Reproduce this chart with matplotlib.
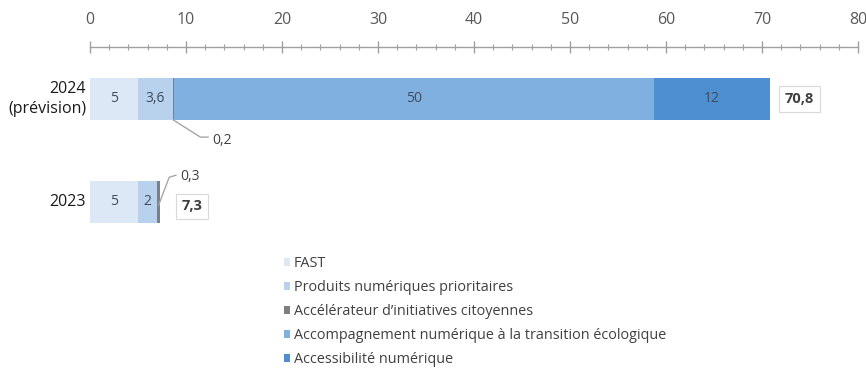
import matplotlib
matplotlib.use("Agg")
import matplotlib.pyplot as plt
from matplotlib.patches import Patch
import numpy as np

plt.rcParams['font.family'] = ['Open Sans', 'DejaVu Sans']

categories = ["2024\n(prévision)", "2023"]
series_names = ["FAST", "Produits numériques prioritaires",
                "Accélérateur d’initiatives citoyennes",
                "Accompagnement numérique à la transition écologique",
                "Accessibilité numérique"]
fast = [5, 5]
produits = [3.6, 2]
accelerateur = [0.2, 0.3]
accompagnement = [50, 0]
accessibilite = [12, 0]
totals = [70.8, 7.3]
seg_labels = [["5", "5"], ["3,6", "2"], ["", ""], ["50", ""], ["12", ""]]
total_labels = ["70,8", "7,3"]
small_labels = ["0,2", "0,3"]
xticks = list(range(0, 81, 10))

colors = ["#dce8f5", "#b8d2ee", "#7f7f7f", "#80b0df", "#4e8fd2"]

W, H = 866, 375
fig = plt.figure(figsize=(W / 100, H / 100), dpi=100)

def px2fig(x, y):
    return x / W, 1 - y / H

top_px, bot_px = 46.7, 240
l, t = px2fig(90, top_px)
_, b = px2fig(90, bot_px)
ax = fig.add_axes([l, b, (858 - 90) / W, t - b])
y0_px, dy_px = 99, 103
ax.set_ylim((bot_px - y0_px) / dy_px, (top_px - y0_px) / dy_px)
ax.set_xlim(0, 80)

ypos = np.arange(len(categories))
series = [fast, produits, accelerateur, accompagnement, accessibilite]
left = np.zeros(len(categories))
for vals, col, labs in zip(series, colors, seg_labels):
    vals = np.array(vals, dtype=float)
    ax.barh(ypos, vals, left=left, height=0.41, color=col, edgecolor='none')
    for i, (v, lab) in enumerate(zip(vals, labs)):
        if lab:
            ax.text(left[i] + v / 2, ypos[i], lab, ha='center', va='center',
                    fontsize=10, color='#3f4a5c')
    left += vals

# totals
for i, (tot, lab) in enumerate(zip(totals, total_labels)):
    ax.annotate(lab, xy=(tot, ypos[i]), xytext=(21.5 + 1.5 * i, 0 if i == 0 else -3),
                textcoords='offset points', ha='center', va='center',
                fontsize=10.5, fontweight='bold', color='#404040',
                bbox=dict(boxstyle='square,pad=0.38', fc='white', ec='#d9d9d9', lw=0.8))

# small value leaders
x02 = fast[0] + produits[0] + accelerateur[0] / 2
ax.plot([x02, x02 + 2.8, x02 + 3.6], [ypos[0] + 0.205, ypos[0] + 0.37, ypos[0] + 0.37],
        color='#a6a6a6', lw=1.0)
ax.text(x02 + 4.0, ypos[0] + 0.40, small_labels[0], ha='left', va='center',
        fontsize=10, color='#404040')
x03 = fast[1] + produits[1] + accelerateur[1] / 2
ax.plot([x03, x03 + 1.1, x03 + 1.8], [ypos[1] + 0.03, ypos[1] - 0.24, ypos[1] - 0.26],
        color='#a6a6a6', lw=1.0)
ax.text(x03 + 2.2, ypos[1] - 0.25, small_labels[1], ha='left', va='center',
        fontsize=10, color='#404040')

# category labels
for i, c in enumerate(categories):
    ax.text(-0.4, ypos[i], c, ha='right', va='center', fontsize=11.5,
            color='#1a1a1a', transform=ax.transData, linespacing=1.3)

# axis styling
for s in ['left', 'right', 'bottom']:
    ax.spines[s].set_visible(False)
ax.spines['top'].set_color('#a0a0a0')
ax.spines['top'].set_linewidth(1.0)
ax.xaxis.tick_top()
ax.set_xticks(xticks)
ax.set_xticks(np.arange(0, 81, 2), minor=True)
ax.tick_params(axis='x', which='major', direction='inout', length=9, width=1.0,
               color='#a0a0a0', labelsize=11.5, labelcolor='#595959', pad=9)
ax.tick_params(axis='x', which='minor', direction='inout', length=5, width=0.8,
               color='#a0a0a0')
ax.set_yticks([])

# legend
handles = [Patch(facecolor=c, edgecolor='none') for c in colors]
lx, ly = px2fig(284, 256)
fig.legend(handles, series_names, loc='upper left', bbox_to_anchor=(lx, ly),
           frameon=False, fontsize=10.4, handlelength=0.4, handleheight=0.45,
           handletextpad=0.3, labelspacing=0.62, labelcolor='#404040',
           borderaxespad=0, borderpad=0)

fig.savefig("out.png", dpi=100)
